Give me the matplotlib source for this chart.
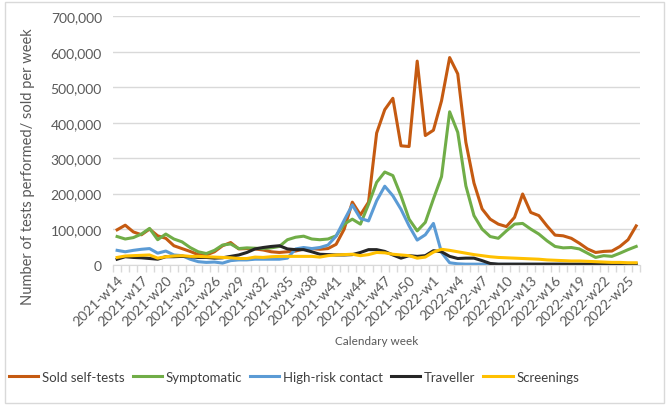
#import modules needed
import numpy as np
import matplotlib.pyplot as plt
from matplotlib.ticker import FuncFormatter
from matplotlib.patches import Rectangle

plt.rcParams['font.family'] = ['Lato', 'DejaVu Sans']

# calendar weeks 2021-w14 .. 2022-w26
weeks = ['2021-w%d' % w for w in range(14, 53)] + ['2022-w%d' % w for w in range(1, 27)]

# weekly counts (thousands)
sold = [98, 111, 92, 84, 100, 81, 74, 53, 45, 37, 28, 27, 36, 53, 62, 44, 45, 44, 41, 36,
        34, 36, 38, 44, 45, 43, 45, 57, 100, 176, 140, 176, 371, 437, 469, 335, 333, 574, 364, 379,
        462, 584, 538, 345, 230, 157, 128, 114, 107, 133, 199, 147, 138, 109, 83, 81, 74, 60, 44, 34,
        37, 38, 51, 70, 109]
symptomatic = [79, 72, 76, 86, 102, 70, 86, 72, 64, 48, 36, 31, 40, 55, 58, 45, 47, 46, 45, 47,
               51, 70, 77, 80, 72, 70, 72, 81, 114, 128, 114, 170, 232, 261, 251, 194, 128, 95, 119, 185,
               248, 431, 373, 222, 138, 100, 79, 74, 95, 114, 116, 100, 86, 67, 51, 47, 48, 44, 32, 20,
               25, 23, 32, 42, 51]
high_risk = [40, 36, 40, 43, 45, 32, 38, 27, 25, 15, 8, 6, 7, 4, 11, 13, 13, 15, 15, 15,
             15, 18, 44, 48, 45, 48, 55, 80, 125, 168, 130, 123, 180, 221, 194, 156, 109, 69, 84, 116,
             34, 5, 2, 1, 1, 1, 1, 0.5, 0.5, 0.5, 0.5, 0.5, 0.5, 0.5, 0.5, 0.5, 0.5, 0.5, 0.5, 0.5,
             0.5, 0.5, 0.5, 0.5, 0.5]
traveller = [15, 22, 20, 19, 17, 15, 22, 22, 23, 22, 20, 20, 18, 19, 23, 27, 34, 44, 48, 51,
             53, 44, 42, 42, 36, 29, 28, 27, 27, 28, 34, 42, 42, 37, 27, 18, 25, 23, 25, 39,
             36, 23, 17, 18, 18, 11, 3, 1, 1, 1, 1, 1, 1, 1, 1, 1, 1, 1, 1, 1,
             1, 1, 1, 1, 1]
screenings = [20, 24, 25, 26, 27, 18, 22, 24, 25, 23, 23, 22, 21, 20, 19, 17, 17, 21, 20, 22,
              23, 23, 23, 23, 23, 21, 25, 27, 28, 29, 25, 28, 34, 33, 29, 27, 25, 18, 21, 35,
              43, 40, 36, 32, 28, 25, 22, 20, 19, 18, 17, 16, 15, 13, 12, 11, 10, 10, 9, 8,
              7, 6, 6, 5, 5]

x = np.arange(len(weeks))

fig = plt.figure(figsize=(6.69, 4.06), dpi=100)
ax = fig.add_axes([0.169, 0.346, 0.788, 0.611])

#chart border
fig.patches.append(Rectangle((5/669, 2/406), 659/669, 401/406, transform=fig.transFigure,
                             fill=False, edgecolor='#D9D9D9', lw=1))

series = [(sold, '#C55A11', 'Sold self-tests'),
          (symptomatic, '#70AD47', 'Symptomatic'),
          (high_risk, '#5B9BD5', 'High-risk contact'),
          (traveller, '#262626', 'Traveller'),
          (screenings, '#FFC000', 'Screenings')]
for vals, col, lab in series:
    ax.plot(x, np.array(vals) * 1000, color=col, lw=2.2, label=lab, solid_joinstyle='round')

# y axis
ax.set_ylim(0, 700000)
ax.set_yticks(np.arange(0, 700001, 100000))
ax.yaxis.set_major_formatter(FuncFormatter(lambda v, p: '{:,.0f}'.format(v)))
ax.grid(axis='y', color='#D9D9D9', lw=1)
ax.set_axisbelow(True)

# x axis: labels every 3 weeks, tick marks at every category boundary
ax.set_xlim(-0.5, len(weeks) - 0.5)
ax.set_xticks(x[::3])
ax.set_xticklabels(weeks[::3], rotation=45, ha='right', va='top', rotation_mode='anchor')
ax.set_xticks(np.arange(-0.5, len(weeks), 1), minor=True)
ax.tick_params(axis='x', which='major', length=0, pad=6, labelsize=10, labelcolor='#595959')
ax.tick_params(axis='x', which='minor', length=5, color='#D9D9D9', width=1)
ax.tick_params(axis='y', length=0, pad=8, labelsize=10, labelcolor='#595959')

for s in ['top', 'right', 'left']:
    ax.spines[s].set_visible(False)
ax.spines['bottom'].set_color('#D9D9D9')

ax.set_ylabel('Number of tests performed/ sold per week', fontsize=10.5, color='#595959')
ax.yaxis.set_label_coords(-0.149, 0.397)
ax.set_xlabel('Calendary week', fontsize=8.5, color='#595959', labelpad=6)

fig.legend(loc='center', bbox_to_anchor=(0.44, 1 - 378/406), ncol=5, frameon=False,
           fontsize=9.5, handlelength=2.2, handletextpad=0.3, columnspacing=0.6, labelcolor='#404040')

plt.savefig('out.png', dpi=100)
